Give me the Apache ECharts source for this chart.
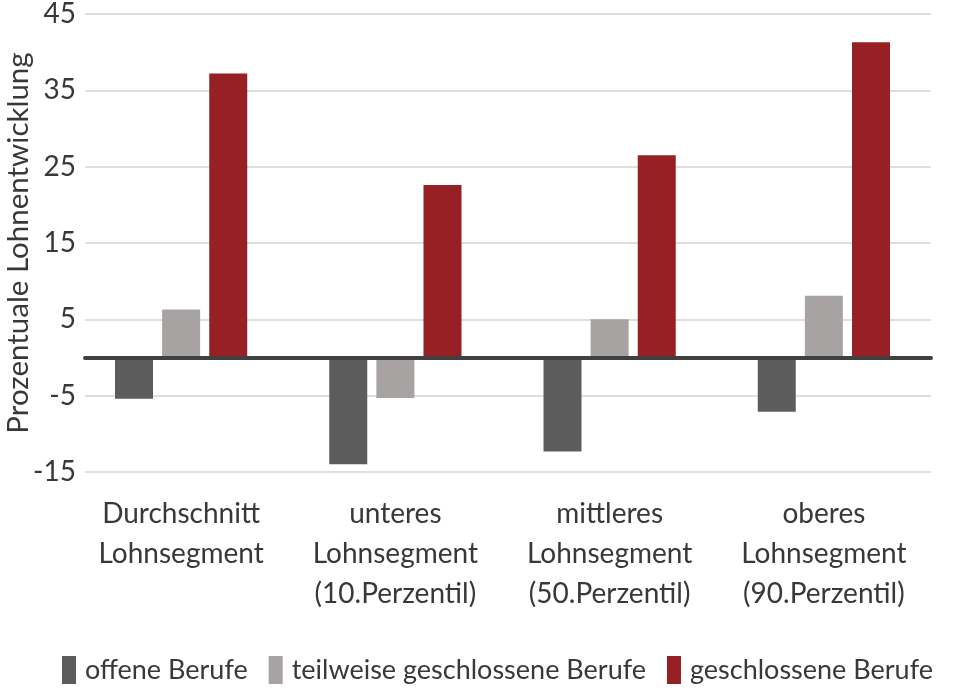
<!DOCTYPE html>
<html>
<head>
<meta charset="utf-8">
<script src="https://cdn.jsdelivr.net/npm/echarts@6/dist/echarts.min.js"></script>
<style>
  html, body { margin: 0; padding: 0; background: #fff; }
  #chart { width: 957px; height: 691px; }
</style>
</head>
<body>
<div id="chart"></div>
<script>
// categories and series
var categories = [
    'Durchschnitt\nLohnsegment',
    'unteres\nLohnsegment\n(10.Perzentil)',
    'mittleres\nLohnsegment\n(50.Perzentil)',
    'oberes\nLohnsegment\n(90.Perzentil)'
];
var seriesNames = ['offene Berufe', 'teilweise geschlossene Berufe', 'geschlossene Berufe'];
var offeneBerufe = [-5.4, -14.0, -12.3, -7.1];
var teilweiseBerufe = [6.3, -5.3, 5.0, 8.1];
var geschlosseneBerufe = [37.2, 22.6, 26.5, 41.3];
var yMin = -15, yMax = 45, yStep = 10;

var textColor = '#383838';
var fontFamily = 'Lato';
var colors = ['#5b5c5b', '#a7a3a2', '#962023'];

var chart = echarts.init(document.getElementById('chart'));

var option = {
    animation: false,
    color: colors,
    textStyle: { fontFamily: fontFamily, color: textColor },
    // grid 0 holds the bars, grid 1 only draws the value axis + gridlines
    grid: [
        { left: 74, right: 26, top: 14, bottom: 219, outerBoundsMode: 'none' },
        { left: 85, right: 26, top: 14, bottom: 219, outerBoundsMode: 'none' }
    ],
    legend: {
        left: 62,
        top: 656,
        padding: 0,
        itemWidth: 14,
        itemHeight: 28,
        itemGap: 21,
        icon: 'rect',
        data: seriesNames,
        textStyle: {
            fontFamily: fontFamily,
            fontSize: 27,
            color: textColor,
            padding: [0, 0, 0, 4]
        }
    },
    xAxis: [{
        type: 'category',
        gridIndex: 0,
        data: categories,
        axisLine: { show: false },
        axisTick: { show: false },
        axisLabel: {
            margin: 22,
            fontSize: 28,
            lineHeight: 40,
            color: textColor,
            fontFamily: fontFamily,
            interval: 0
        }
    }, {
        // zero line
        type: 'value',
        gridIndex: 1,
        min: 0,
        max: 1,
        z: 5,
        axisLine: { show: true, onZero: true, lineStyle: { color: '#404040', width: 4 } },
        axisTick: { show: false },
        axisLabel: { show: false },
        splitLine: { show: false }
    }],
    yAxis: [{
        type: 'value',
        gridIndex: 0,
        min: yMin,
        max: yMax,
        interval: yStep,
        show: false,
        splitLine: { show: false }
    }, {
        type: 'value',
        gridIndex: 1,
        min: yMin,
        max: yMax,
        interval: yStep,
        name: 'Prozentuale Lohnentwicklung',
        nameLocation: 'middle',
        nameGap: 52,
        nameMoveOverlap: false,
        nameTextStyle: { fontSize: 29.5, color: textColor, fontFamily: fontFamily },
        axisLine: { show: false },
        axisTick: { show: false },
        axisLabel: { margin: 9, fontSize: 28, color: textColor, fontFamily: fontFamily },
        splitLine: { lineStyle: { color: '#d4d4d4', width: 1.5 } }
    }],
    series: [{
        name: seriesNames[0],
        type: 'bar',
        xAxisIndex: 0,
        yAxisIndex: 0,
        barWidth: 38,
        barGap: '24%',
        data: offeneBerufe
    }, {
        name: seriesNames[1],
        type: 'bar',
        xAxisIndex: 0,
        yAxisIndex: 0,
        barWidth: 38,
        barGap: '24%',
        data: teilweiseBerufe
    }, {
        name: seriesNames[2],
        type: 'bar',
        xAxisIndex: 0,
        yAxisIndex: 0,
        barWidth: 38,
        barGap: '24%',
        data: geschlosseneBerufe
    }]
};

chart.setOption(option);
</script>
</body>
</html>
